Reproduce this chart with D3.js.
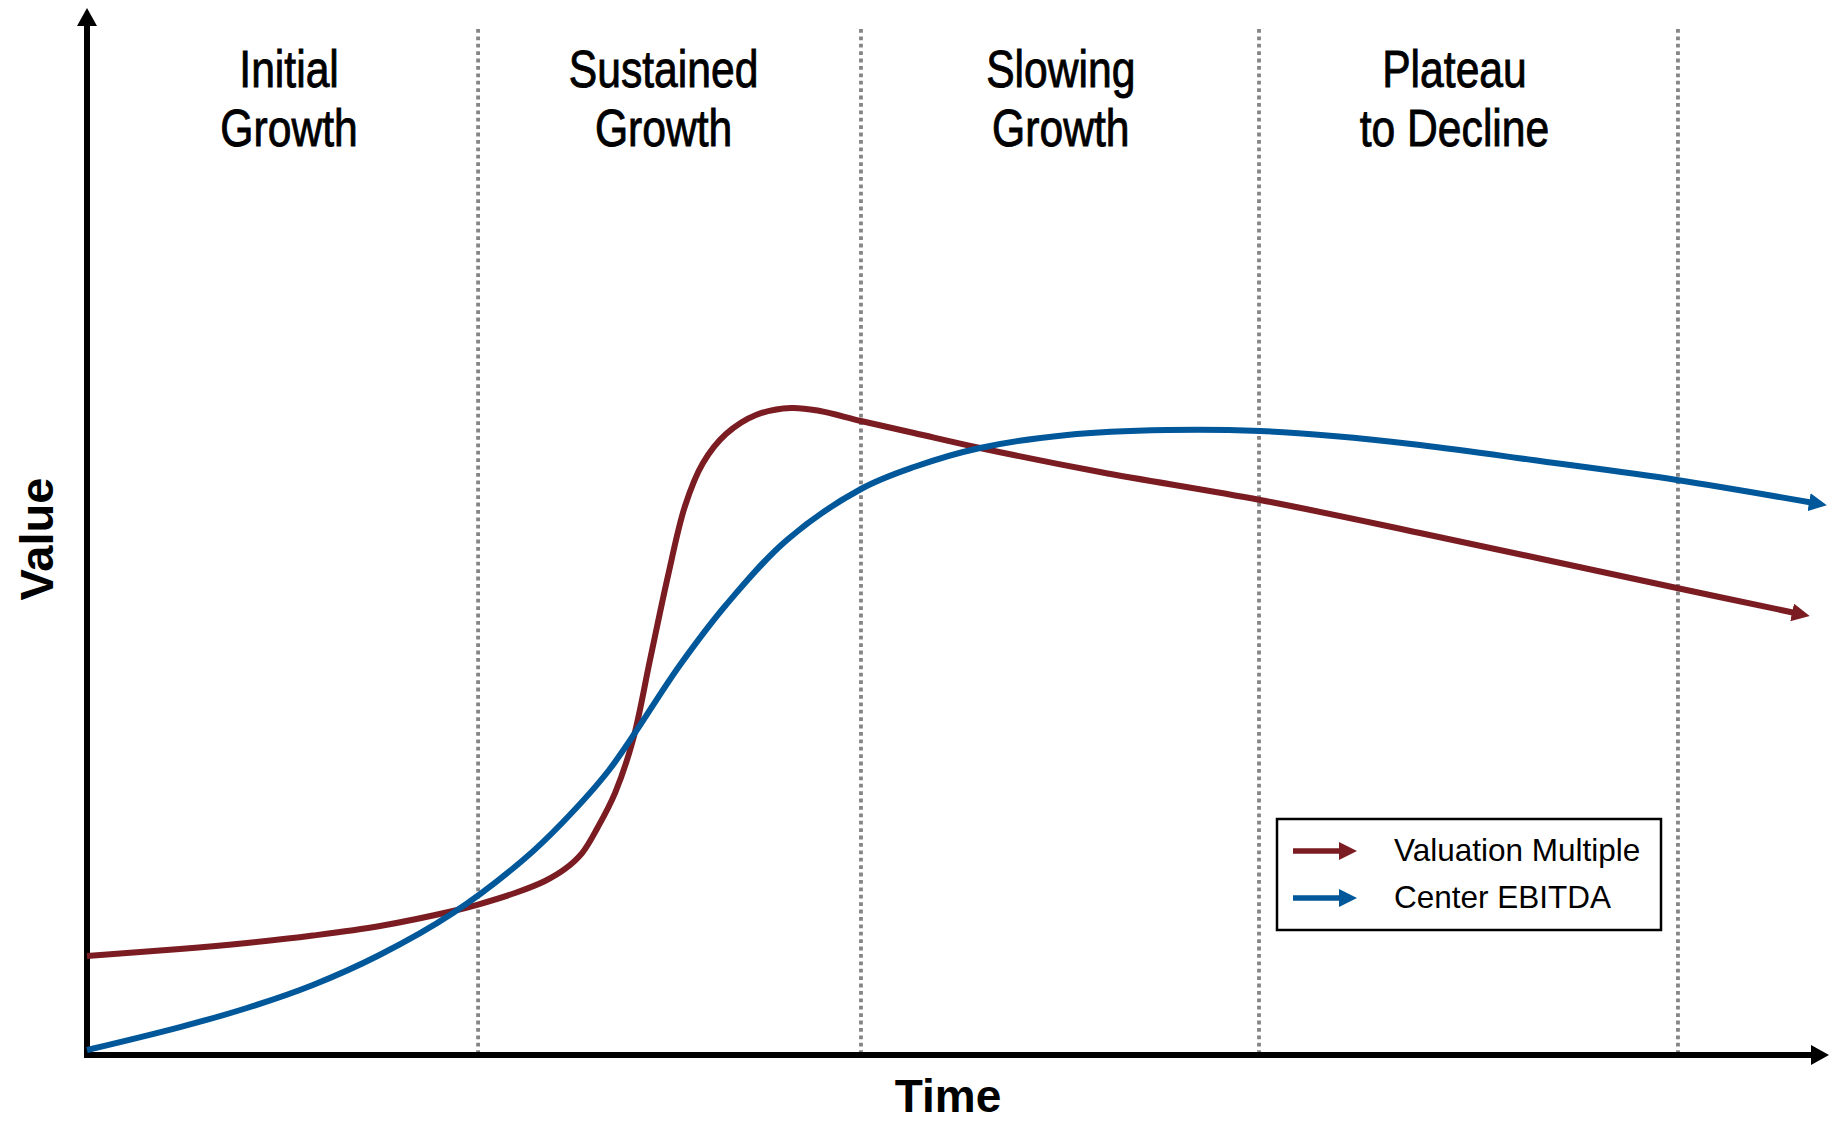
<!DOCTYPE html>
<html>
<head>
<meta charset="utf-8">
<script src="https://cdn.jsdelivr.net/npm/d3@7"></script>
<style>
  html, body { margin: 0; padding: 0; background: #fff; }
  svg { display: block; }
</style>
</head>
<body>
<svg id="chart" width="1837" height="1121"></svg>
<script>
// ---------------- DATA ----------------
const stageLines1 = ["Initial", "Sustained", "Slowing", "Plateau"];
const stageLines2 = ["Growth", "Growth", "Growth", "to Decline"];
const stageCenters = [11.6, 33.1, 55.9, 78.5];      // time units
const stageBounds = [22.45, 44.43, 67.28, 91.33];   // time units

const seriesNames = ["Valuation Multiple", "Center EBITDA"];

const valTime = [0, 5.34, 9.18, 12.97, 16.82, 21.01, 22.45, 24.57, 26.29, 27.44, 28.42, 29.33, 30.31, 31.34, 32.32, 33.35, 34.33, 35.36, 36.68, 38.4, 40.41, 42.08, 44.43, 47.47, 51.26, 58.15, 67.34, 76.52, 91.27, 98.33];
const valValue = [9.46, 10.12, 10.7, 11.41, 12.32, 13.75, 14.37, 15.47, 16.62, 17.77, 19.29, 21.78, 25.02, 30.09, 37.73, 45.75, 52.44, 56.54, 59.31, 61.13, 61.8, 61.51, 60.55, 59.41, 57.98, 55.68, 53.01, 49.86, 44.6, 42.12];

const ebTime = [0, 5.34, 9.18, 12.97, 16.79, 21.01, 25.03, 27.27, 29.97, 34.04, 36.68, 40.18, 44.43, 47.47, 51.26, 56.26, 62.0, 67.34, 71.53, 76.52, 83.41, 91.27, 99.31];
const ebValue = [0.48, 2.67, 4.49, 6.69, 9.55, 13.56, 18.62, 22.16, 27.22, 37.25, 42.98, 49.19, 54.06, 56.16, 57.98, 59.22, 59.69, 59.6, 59.12, 58.26, 56.73, 54.92, 52.67];

const axisTitleX = "Time";
const axisTitleY = "Value";

// ---------------- CHART ----------------
const svg = d3.select("#chart");
const red = "#7a1c21", blue = "#00579a";

const x = d3.scaleLinear().domain([0, 100]).range([87, 1829]);
const y = d3.scaleLinear().domain([0, 100]).range([1055, 8]);

const defs = svg.append("defs");
function marker(id, color, len, w, ref) {
  defs.append("marker")
    .attr("id", id)
    .attr("markerUnits", "userSpaceOnUse")
    .attr("viewBox", `0 0 ${len} ${w}`)
    .attr("markerWidth", len).attr("markerHeight", w)
    .attr("refX", ref).attr("refY", w / 2)
    .attr("orient", "auto")
    .append("path")
    .attr("d", `M0,0 L${len},${w / 2} L0,${w} Z`)
    .attr("fill", color);
}
marker("arrRed", red, 18, 18, 8);
marker("arrBlue", blue, 18, 18, 8);
marker("arrBlack", "#000", 18, 20, 8);

// stage dividers
svg.append("g").selectAll("line").data(stageBounds).join("line")
  .attr("x1", d => x(d)).attr("x2", d => x(d))
  .attr("y1", 29).attr("y2", y(0) - 3)
  .attr("stroke", "#858585").attr("stroke-width", 3.8)
  .attr("stroke-dasharray", "3.8 3.6");

// stage labels (condensed)
const lab = svg.append("g")
  .attr("font-family", "'Liberation Sans', Arial, sans-serif")
  .attr("font-size", 52).attr("text-anchor", "middle").attr("fill", "#000")
  .attr("stroke", "#000").attr("stroke-width", 0.9);
lab.selectAll("text.l1").data(stageLines1).join("text").attr("class", "l1")
  .attr("transform", (d, i) => `translate(${x(stageCenters[i])},87) scale(0.82,1)`).text(d => d);
lab.selectAll("text.l2").data(stageLines2).join("text").attr("class", "l2")
  .attr("transform", (d, i) => `translate(${x(stageCenters[i])},146) scale(0.82,1)`).text(d => d);

// axes
svg.append("line").attr("x1", x(0) - 3).attr("x2", x(100) - 10)
  .attr("y1", y(0)).attr("y2", y(0))
  .attr("stroke", "#000").attr("stroke-width", 6)
  .attr("marker-end", "url(#arrBlack)");
svg.append("line").attr("x1", x(0)).attr("x2", x(0))
  .attr("y1", y(0) + 3).attr("y2", y(100) + 10)
  .attr("stroke", "#000").attr("stroke-width", 6)
  .attr("marker-end", "url(#arrBlack)");

// curves
const line = d3.line().x(d => x(d[0])).y(d => y(d[1])).curve(d3.curveCatmullRom.alpha(0.5));
svg.append("path").datum(valTime.map((t, i) => [t, valValue[i]]))
  .attr("d", line).attr("fill", "none").attr("stroke", red)
  .attr("stroke-width", 6).attr("marker-end", "url(#arrRed)");
svg.append("path").datum(ebTime.map((t, i) => [t, ebValue[i]]))
  .attr("d", line).attr("fill", "none").attr("stroke", blue)
  .attr("stroke-width", 6).attr("marker-end", "url(#arrBlue)");

// axis titles
svg.append("text").attr("x", 948).attr("y", 1112).attr("text-anchor", "middle")
  .attr("font-family", "'Liberation Sans', Arial, sans-serif")
  .attr("font-weight", "bold").attr("font-size", 46).text(axisTitleX);
svg.append("text").attr("transform", "translate(53,539) rotate(-90)")
  .attr("text-anchor", "middle")
  .attr("font-family", "'Liberation Sans', Arial, sans-serif")
  .attr("font-weight", "bold").attr("font-size", 47).text(axisTitleY);

// legend
const lg = svg.append("g");
lg.append("rect").attr("x", 1277).attr("y", 819).attr("width", 384).attr("height", 111)
  .attr("fill", "#fff").attr("stroke", "#000").attr("stroke-width", 2.5);
const legColors = [red, blue];
const legMarkers = ["arrRed", "arrBlue"];
seriesNames.forEach((name, i) => {
  const cy = 851 + i * 47;
  lg.append("line").attr("x1", 1293).attr("x2", 1347).attr("y1", cy).attr("y2", cy)
    .attr("stroke", legColors[i]).attr("stroke-width", 5.5)
    .attr("marker-end", `url(#${legMarkers[i]})`);
  lg.append("text").attr("x", 1394).attr("y", cy + 10)
    .attr("font-family", "'Liberation Sans', Arial, sans-serif")
    .attr("font-size", 31.5).attr("fill", "#000").text(name);
});
</script>
</body>
</html>
